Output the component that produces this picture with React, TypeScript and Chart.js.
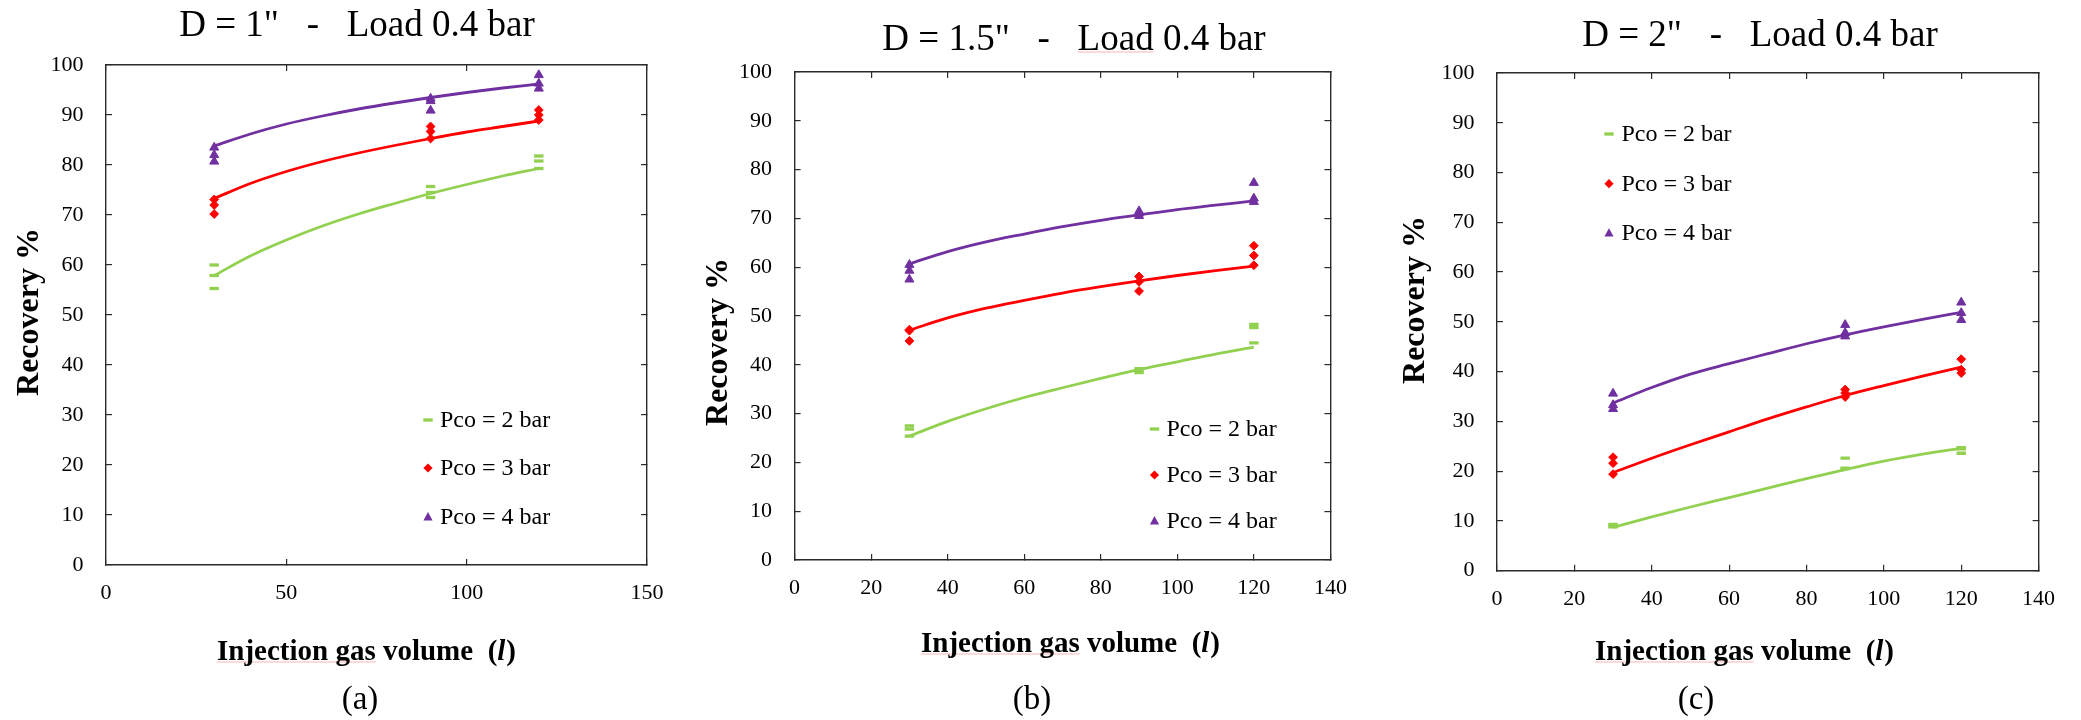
import React, { useEffect, useRef } from "react";
import { Chart, registerables } from "chart.js";

Chart.register(...registerables);

const SERIF = "'Liberation Serif', 'Times New Roman', Times, serif";

// Series shared by all three panels
const seriesLabels = ["Pco = 2 bar", "Pco = 3 bar", "Pco = 4 bar"];
const seriesColors = ["#92D050", "#FF0000", "#7030A0"];
const panelTitles = ['D = 1"   -   Load 0.4 bar', 'D = 1.5"   -   Load 0.4 bar', 'D = 2"   -   Load 0.4 bar'];
const panelTags = ["(a)", "(b)", "(c)"];
const xAxisTitle = ["Injection gas volume  (", "l", ")"];
const yAxisTitle = "Recovery %";

// Injection volumes (l) at which the runs were made, and trend-line sample volumes
const volumes = [30, 90, 120];
const trendVolumes = [30, 40, 50, 60, 70, 80, 90, 100, 110, 120];

// Tick labels
const xTicksA = [0, 50, 100, 150];
const xTicksBC = [0, 20, 40, 60, 80, 100, 120, 140];
const yTicks = [0, 10, 20, 30, 40, 50, 60, 70, 80, 90, 100];

// D = 1" : three repeat runs at each volume
const recA2 = [[60.0, 57.9, 55.3], [75.7, 74.5, 73.5], [81.8, 80.8, 79.3]];
const recA3 = [[73.1, 72.0, 70.2], [87.7, 86.7, 85.3], [91.0, 90.0, 89.0]];
const recA4 = [[83.5, 82.0, 80.7], [93.3, 92.8, 90.9], [98.0, 96.3, 95.3]];
const fitA2 = [57.9, 61.8, 65.0, 67.8, 70.2, 72.3, 74.3, 76.1, 77.8, 79.3];
const fitA3 = [73.3, 76.3, 78.7, 80.7, 82.4, 83.9, 85.3, 86.6, 87.7, 88.8];
const fitA4 = [83.8, 86.2, 88.2, 89.8, 91.2, 92.4, 93.5, 94.5, 95.4, 96.2];

// D = 1.5"
const recB2 = [[27.5, 26.8, 25.4], [39.2, 38.8, 38.4], [48.3, 47.6, 44.5]];
const recB3 = [[47.2, 47.0, 44.9], [58.1, 57.0, 55.1], [64.4, 62.4, 60.4]];
const recB4 = [[60.5, 59.3, 57.5], [71.5, 71.0, 70.5], [77.3, 74.1, 73.4]];
const fitB2 = [25.4, 28.4, 31.0, 33.3, 35.3, 37.2, 39.0, 40.6, 42.2, 43.6];
const fitB3 = [47.1, 49.6, 51.6, 53.2, 54.7, 56.0, 57.2, 58.3, 59.3, 60.2];
const fitB4 = [60.7, 63.2, 65.2, 66.8, 68.3, 69.6, 70.7, 71.8, 72.7, 73.6];

// D = 2"
const recC2 = [[9.3, 9.0, 8.8], [22.6, 20.6, 20.5], [24.7, 24.5, 23.6]];
const recC3 = [[22.8, 21.6, 19.4], [36.4, 35.7, 34.9], [42.5, 40.4, 39.7]];
const recC4 = [[35.6, 33.3, 32.5], [49.4, 47.8, 47.1], [53.9, 51.8, 50.4]];
const fitC2 = [8.7, 10.8, 12.8, 14.7, 16.6, 18.5, 20.3, 22.0, 23.4, 24.6];
const fitC3 = [19.7, 22.6, 25.3, 27.9, 30.5, 32.9, 35.2, 37.2, 39.1, 40.9];
const fitC4 = [33.7, 36.8, 39.5, 41.6, 43.6, 45.6, 47.4, 49.0, 50.5, 51.9];

type Layout = {
  left: number; width: number;
  area: { left: number; top: number; right: number; bottom: number };
  titleX: number; titleY: number;
  xTitleX: number; xTitleY: number;
  yTitleX: number; yTitleY: number;
  tagX: number; tagY: number;
  legendMarkX: number; legendTextX: number; legendRows: number[];
};

type PanelSpec = {
  title: string; tag: string; xMax: number; xTicks: number[];
  runs: number[][][]; fits: number[][]; layout: Layout;
  markTitleWord: boolean;
};

const panels: PanelSpec[] = [
  {
    title: panelTitles[0], tag: panelTags[0], xMax: 150, xTicks: xTicksA,
    runs: [recA2, recA3, recA4], fits: [fitA2, fitA3, fitA4], markTitleWord: false,
    layout: {
      left: 0, width: 700,
      area: { left: 106, top: 65, right: 647, bottom: 565 },
      titleX: 357, titleY: 36, xTitleX: 366, xTitleY: 660, yTitleX: 38, yTitleY: 312,
      tagX: 360, tagY: 709, legendMarkX: 428, legendTextX: 440, legendRows: [420, 468, 517],
    },
  },
  {
    title: panelTitles[1], tag: panelTags[1], xMax: 140, xTicks: xTicksBC,
    runs: [recB2, recB3, recB4], fits: [fitB2, fitB3, fitB4], markTitleWord: true,
    layout: {
      left: 700, width: 690,
      area: { left: 94.6, top: 72, right: 630.4, bottom: 560 },
      titleX: 374, titleY: 49.5, xTitleX: 370, xTitleY: 652, yTitleX: 27, yTitleY: 342,
      tagX: 332, tagY: 709, legendMarkX: 454.5, legendTextX: 466.5, legendRows: [429, 475, 521],
    },
  },
  {
    title: panelTitles[2], tag: panelTags[2], xMax: 140, xTicks: xTicksBC,
    runs: [recC2, recC3, recC4], fits: [fitC2, fitC3, fitC4], markTitleWord: false,
    layout: {
      left: 1390, width: 691,
      area: { left: 107, top: 73, right: 648.6, bottom: 570.7 },
      titleX: 370, titleY: 46, xTitleX: 354, xTitleY: 660, yTitleX: 34, yTitleY: 300,
      tagX: 306, tagY: 709, legendMarkX: 219, legendTextX: 231.4, legendRows: [134, 183.7, 233.2],
    },
  },
];

const pointStyles = ["line", "rectRot", "triangle"];
const pointRadii = [4.7, 4.4, 5.2];
const pointBorders = [3.3, 1, 1];
const AXIS = "#2b2b2b";
const SPELL_MARK = "rgba(235, 90, 90, 0.45)";

function drawLegendMark(ctx: CanvasRenderingContext2D, i: number, x: number, y: number) {
  const c = seriesColors[i];
  ctx.save();
  ctx.fillStyle = c;
  ctx.strokeStyle = c;
  if (i === 0) {
    ctx.lineWidth = 3.3;
    ctx.beginPath();
    ctx.moveTo(x - 4.7, y);
    ctx.lineTo(x + 4.7, y);
    ctx.stroke();
  } else if (i === 1) {
    ctx.beginPath();
    ctx.moveTo(x, y - 4.6);
    ctx.lineTo(x + 4.6, y);
    ctx.lineTo(x, y + 4.6);
    ctx.lineTo(x - 4.6, y);
    ctx.closePath();
    ctx.fill();
  } else {
    ctx.beginPath();
    ctx.moveTo(x, y - 5);
    ctx.lineTo(x + 4.6, y + 3.4);
    ctx.lineTo(x - 4.6, y + 3.4);
    ctx.closePath();
    ctx.fill();
  }
  ctx.restore();
}

function underline(ctx: CanvasRenderingContext2D, x0: number, x1: number, y: number) {
  ctx.save();
  ctx.strokeStyle = SPELL_MARK;
  ctx.lineWidth = 1;
  ctx.beginPath();
  ctx.moveTo(x0, y);
  ctx.lineTo(x1, y);
  ctx.stroke();
  ctx.restore();
}

function panelText(spec: PanelSpec) {
  const L = spec.layout;
  return {
    id: "panelText",
    afterDraw(chart: Chart) {
      const ctx = chart.ctx;
      ctx.save();
      ctx.fillStyle = "#000";
      ctx.textBaseline = "alphabetic";

      // panel title
      ctx.font = `37px ${SERIF}`;
      ctx.textAlign = "left";
      const tw = ctx.measureText(spec.title).width;
      const tx = L.titleX - tw / 2;
      ctx.fillText(spec.title, tx, L.titleY);
      if (spec.markTitleWord) {
        const k = spec.title.indexOf("Load");
        const pre = ctx.measureText(spec.title.slice(0, k)).width;
        const wl = ctx.measureText("Load").width;
        underline(ctx, tx + pre, tx + pre + wl, L.titleY + 2.5);
      }

      // x-axis title with italic "l"
      const bold = `bold 29px ${SERIF}`;
      const boldIt = `italic bold 29px ${SERIF}`;
      ctx.font = bold;
      const w0 = ctx.measureText(xAxisTitle[0]).width;
      const w2 = ctx.measureText(xAxisTitle[2]).width;
      const wMarked = ctx.measureText("Injection gas").width;
      ctx.font = boldIt;
      const w1 = ctx.measureText(xAxisTitle[1]).width;
      let x = L.xTitleX - (w0 + w1 + w2) / 2;
      underline(ctx, x, x + wMarked, L.xTitleY + 2);
      ctx.textAlign = "left";
      ctx.font = bold;
      ctx.fillText(xAxisTitle[0], x, L.xTitleY);
      x += w0;
      ctx.font = boldIt;
      ctx.fillText(xAxisTitle[1], x, L.xTitleY);
      x += w1 + 1;
      ctx.font = bold;
      ctx.fillText(xAxisTitle[2], x, L.xTitleY);

      // y-axis title
      ctx.save();
      ctx.translate(L.yTitleX, L.yTitleY);
      ctx.rotate(-Math.PI / 2);
      ctx.textAlign = "center";
      ctx.font = `bold 32px ${SERIF}`;
      ctx.fillText(yAxisTitle, 0, 0);
      ctx.restore();

      // panel tag
      ctx.textAlign = "center";
      ctx.font = `33px ${SERIF}`;
      ctx.fillText(spec.tag, L.tagX, L.tagY);

      // legend
      ctx.textAlign = "left";
      ctx.textBaseline = "middle";
      ctx.font = `24px ${SERIF}`;
      seriesLabels.forEach((label, i) => {
        drawLegendMark(ctx, i, L.legendMarkX, L.legendRows[i]);
        ctx.fillStyle = "#000";
        ctx.fillText(label, L.legendTextX, L.legendRows[i] + 1);
      });
      ctx.restore();
    },
  };
}

function buildConfig(spec: PanelSpec): any {
  const L = spec.layout;
  const datasets: any[] = [];
  spec.fits.forEach((fit, i) => {
    datasets.push({
      label: seriesLabels[i] + " trend",
      data: trendVolumes.map((v, k) => ({ x: v, y: fit[k] })),
      showLine: true,
      borderColor: seriesColors[i],
      borderWidth: 2.8,
      pointRadius: 0,
      cubicInterpolationMode: "monotone",
      fill: false,
      order: 2,
    });
  });
  spec.runs.forEach((runs, i) => {
    const pts: { x: number; y: number }[] = [];
    runs.forEach((vals, k) => vals.forEach((y) => pts.push({ x: volumes[k], y })));
    datasets.push({
      label: seriesLabels[i],
      data: pts,
      showLine: false,
      pointStyle: pointStyles[i],
      pointRadius: pointRadii[i],
      pointBorderWidth: pointBorders[i],
      pointBackgroundColor: seriesColors[i],
      pointBorderColor: seriesColors[i],
      order: 1,
    });
  });

  const grid = { display: true, drawOnChartArea: false, drawTicks: true, tickLength: -6, color: AXIS, tickColor: AXIS, lineWidth: 1.2 };
  const border = { display: true, color: AXIS, width: 1.4 };
  const tickFont = { family: SERIF, size: 22 };
  const setTicks = (list: number[]) => (s: any) => { s.ticks = list.map((v) => ({ value: v })); };

  return {
    type: "scatter",
    data: { datasets },
    options: {
      responsive: false,
      animation: false,
      events: [],
      layout: { padding: { left: 0, top: L.area.top, right: L.width - L.area.right, bottom: 0 } },
      plugins: { legend: { display: false }, title: { display: false }, tooltip: { enabled: false } },
      scales: {
        x: {
          type: "linear", position: "bottom", min: 0, max: spec.xMax,
          afterBuildTicks: setTicks(spec.xTicks),
          ticks: { padding: 21, font: tickFont, color: "#000", maxRotation: 0, autoSkip: false },
          grid, border,
          afterFit: (s: any) => { s.height = 720 - L.area.bottom; },
        },
        xTop: {
          type: "linear", position: "top", min: 0, max: spec.xMax,
          afterBuildTicks: setTicks(spec.xTicks),
          ticks: { display: false },
          grid, border,
          afterFit: (s: any) => { s.height = 0; },
        },
        y: {
          type: "linear", position: "left", min: 0, max: 100,
          afterBuildTicks: setTicks(yTicks),
          ticks: { padding: 28.5, font: tickFont, color: "#000", autoSkip: false },
          grid, border,
          afterFit: (s: any) => { s.width = L.area.left; },
        },
        yRight: {
          type: "linear", position: "right", min: 0, max: 100,
          afterBuildTicks: setTicks(yTicks),
          ticks: { display: false },
          grid, border,
          afterFit: (s: any) => { s.width = 0; },
        },
      },
    },
    plugins: [panelText(spec)],
  };
}

function RecoveryPanel({ spec }: { spec: PanelSpec }) {
  const ref = useRef<HTMLCanvasElement | null>(null);
  useEffect(() => {
    if (!ref.current) return;
    const chart = new Chart(ref.current, buildConfig(spec));
    return () => chart.destroy();
  }, [spec]);
  const L = spec.layout;
  return (
    <canvas
      ref={ref}
      width={L.width}
      height={720}
      style={{ position: "absolute", left: L.left, top: 0, width: L.width, height: 720 }}
    />
  );
}

export default function App() {
  return (
    <div style={{ position: "fixed", left: 0, top: 0, width: 2081, height: 720, background: "#fff" }}>
      {panels.map((p) => (
        <RecoveryPanel key={p.tag} spec={p} />
      ))}
    </div>
  );
}
